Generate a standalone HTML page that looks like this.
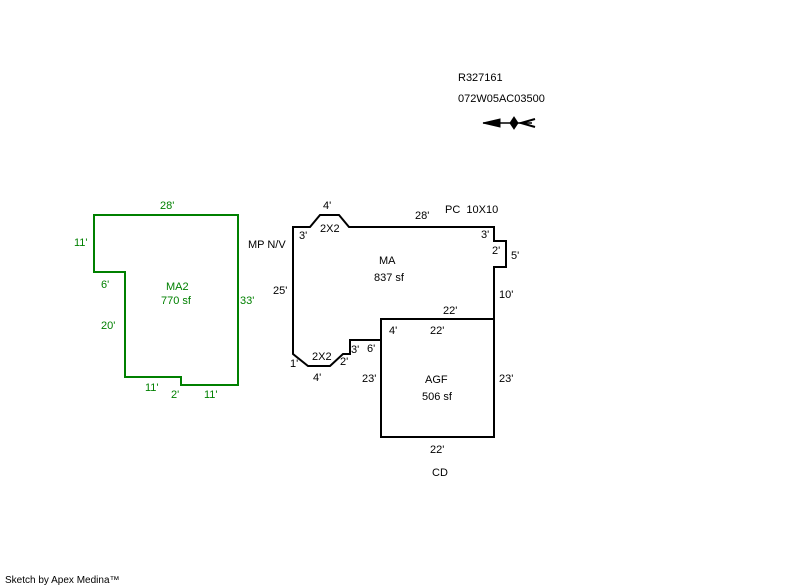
<!DOCTYPE html>
<html><head><style>
body{margin:0;background:#fff}
svg{display:block}
text{font-family:"Liberation Sans",sans-serif;font-size:11px}
</style></head><body>
<svg width="800" height="587" viewBox="0 0 800 587">
<polygon points="94,215 238,215 238,385 181,385 181,377 125,377 125,272 94,272" fill="none" stroke="#008000" stroke-width="2"/>
<g fill="#008000">
<text x="160" y="209">28'</text>
<text x="74" y="246">11'</text>
<text x="101" y="288">6'</text>
<text x="101" y="329">20'</text>
<text x="240" y="304">33'</text>
<text x="145" y="391">11'</text>
<text x="171" y="398">2'</text>
<text x="204" y="398">11'</text>
<text x="166" y="290">MA2</text>
<text x="161" y="304">770 sf</text>
</g>
<polygon points="293,227 310,227 320,215 339,215 349,227 494,227 494,241 506,241 506,267 494,267 494,319 381,319 381,340 350,340 350,354 343,354 330,366 308,366 293,354" fill="none" stroke="#000" stroke-width="2"/>
<rect x="381" y="319" width="113" height="118" fill="none" stroke="#000" stroke-width="2"/>
<g fill="#000">
<text x="458" y="81">R327161</text>
<text x="458" y="102">072W05AC03500</text>
<text x="323" y="209">4'</text>
<text x="415" y="219">28'</text>
<text x="445" y="213">PC&#160; 10X10</text>
<text x="320" y="232">2X2</text>
<text x="299" y="239">3'</text>
<text x="481" y="238">3'</text>
<text x="248" y="248">MP N/V</text>
<text x="492" y="254">2'</text>
<text x="511" y="259">5'</text>
<text x="379" y="264">MA</text>
<text x="374" y="281">837 sf</text>
<text x="273" y="294">25'</text>
<text x="499" y="298">10'</text>
<text x="443" y="314">22'</text>
<text x="389" y="334">4'</text>
<text x="430" y="334">22'</text>
<text x="367" y="352">6'</text>
<text x="351" y="353">3'</text>
<text x="312" y="360">2X2</text>
<text x="340" y="365">2'</text>
<text x="290" y="367">1'</text>
<text x="313" y="381">4'</text>
<text x="362" y="382">23'</text>
<text x="425" y="383">AGF</text>
<text x="499" y="382">23'</text>
<text x="422" y="400">506 sf</text>
<text x="430" y="453">22'</text>
<text x="432" y="476">CD</text>
<text x="5" y="583" style="font-size:10px">Sketch by Apex Medina™</text>
</g>
<g stroke="#000" fill="#000">
<polygon points="483,123 500,119 500,127" />
<line x1="483" y1="123" x2="532" y2="123" stroke-width="1.5"/>
<polygon points="510,123 514,117 518,123 514,129"/>
<polyline points="535,119 521,123 535,127" fill="none" stroke-width="2"/>
</g>
</svg>
</body></html>
